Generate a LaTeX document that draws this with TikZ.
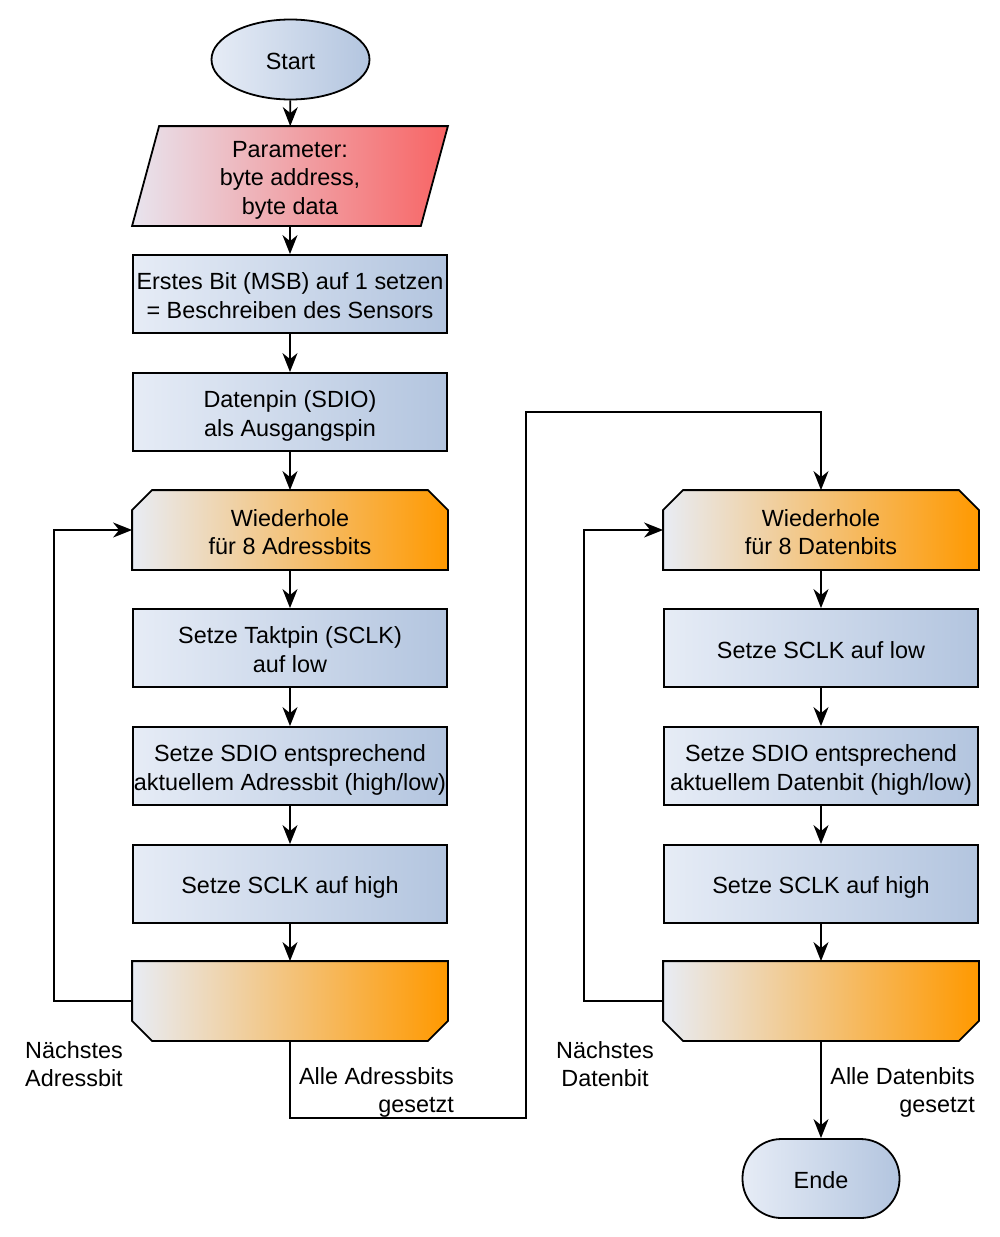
\documentclass[tikz,border=0pt]{standalone}
\usepackage{fontspec}
\usepackage{array}
\setmainfont{Liberation Sans}
\usetikzlibrary{arrows.meta,backgrounds,shapes.geometric}
\definecolor{bL}{HTML}{E6ECF6}
\definecolor{bR}{HTML}{B3C5DF}
\definecolor{oL}{HTML}{E8ECF4}
\definecolor{oR}{HTML}{FF9900}
\definecolor{rL}{HTML}{E8E4EE}
\definecolor{rR}{HTML}{F86464}
\newcommand{\lnstrut}{\rule[-4pt]{0pt}{28pt}}
\newcommand{\ctext}[1]{{\renewcommand{\arraystretch}{0}\begin{tabular}{@{}>{\lnstrut}c@{}}#1\end{tabular}}}
\newcommand{\ltext}[1]{{\renewcommand{\arraystretch}{0}\begin{tabular}{@{}>{\lnstrut}l@{}}#1\end{tabular}}}
\newcommand{\rtext}[1]{{\renewcommand{\arraystretch}{0}\begin{tabular}{@{}>{\lnstrut}r@{}}#1\end{tabular}}}
\begin{document}
\begin{tikzpicture}[x=1pt,y=-1pt,line width=1.8pt,
  >={Stealth[length=19pt,width=15pt,inset=6pt]},
  font=\fontsize{23.4}{28}\selectfont,
  box/.style={draw=black,line width=1.8pt,rectangle,minimum width=314pt,minimum height=78pt,inner sep=0pt,left color=bL,right color=bR},
  txt/.style={inner sep=0pt,minimum width=314pt,minimum height=78pt},
  shp/.style={draw=black,line width=1.8pt,line join=miter},
  conn/.style={draw=black,line width=1.8pt,->},
  lbl/.style={inner sep=0pt}
]
\useasboundingbox (0,0) rectangle (1000,1237);

% left column
\node[draw=black,line width=1.8pt,ellipse,minimum width=158pt,minimum height=80pt,inner sep=0pt,left color=bL,right color=bR] (start) at (290.5,59.5) {\ctext{Start}};
\node[txt,minimum height=98pt] (param) at (290,176) {\ctext{Parameter:\\byte address,\\byte data}};
\node[box] (b1) at (290,294) {\ctext{Erstes Bit (MSB) auf 1 setzen\\= Beschreiben des Sensors}};
\node[box] (b2) at (290,412) {\ctext{Datenpin (SDIO)\\als Ausgangspin}};
\node[txt] (L1) at (290,530) {\ctext{Wiederhole\\für 8 Adressbits}};
\node[box] (b3) at (290,648) {\ctext{Setze Taktpin (SCLK)\\auf low}};
\node[box] (b4) at (290,766) {\ctext{Setze SDIO entsprechend\\aktuellem Adressbit (high/low)}};
\node[box] (b5) at (290,884) {\ctext{Setze SCLK auf high}};
\node[txt] (E1) at (290,1001) {};

% right column
\node[txt] (R1) at (821,530) {\ctext{Wiederhole\\für 8 Datenbits}};
\node[box] (c3) at (821,648) {\ctext{Setze SCLK auf low}};
\node[box] (c4) at (821,766) {\ctext{Setze SDIO entsprechend\\aktuellem Datenbit (high/low)}};
\node[box] (c5) at (821,884) {\ctext{Setze SCLK auf high}};
\node[txt] (E2) at (821,1001) {};
\node[draw=black,line width=1.8pt,rectangle,rounded corners=39pt,minimum width=157pt,minimum height=79pt,inner sep=0pt,left color=bL,right color=bR] (ende) at (821,1178.5) {\ctext{Ende}};

\begin{pgfonlayer}{background}
\path[shp,left color=rL,right color=rR] ([xshift=27pt]param.north west) -- (param.north east) -- ([xshift=-27pt]param.south east) -- (param.south west) -- cycle;
\foreach \n in {L1,R1}{
\path[shp,left color=oL,right color=oR] ([xshift=20pt]\n.north west) -- ([xshift=-20pt]\n.north east) -- ([yshift=-20pt]\n.north east) -- (\n.south east) -- (\n.south west) -- ([yshift=-20pt]\n.north west) -- cycle;
}
\foreach \n in {E1,E2}{
\path[shp,left color=oL,right color=oR] (\n.north west) -- (\n.north east) -- ([yshift=20pt]\n.south east) -- ([xshift=-20pt]\n.south east) -- ([xshift=20pt]\n.south west) -- ([yshift=20pt]\n.south west) -- cycle;
}
\end{pgfonlayer}

% connectors
\draw[conn] (start) -- (param);
\draw[conn] (param) -- (b1);
\draw[conn] (b1) -- (b2);
\draw[conn] (b2) -- (L1);
\draw[conn] (L1) -- (b3);
\draw[conn] (b3) -- (b4);
\draw[conn] (b4) -- (b5);
\draw[conn] (b5) -- (E1);
\draw[conn] (E1.west) -- ++(-78,0) |- (L1.west);

\draw[conn] (R1) -- (c3);
\draw[conn] (c3) -- (c4);
\draw[conn] (c4) -- (c5);
\draw[conn] (c5) -- (E2);
\draw[conn] (E2.west) -- ++(-79,0) |- (R1.west);

\coordinate (m1) at (526,1118);
\coordinate (m2) at (526,412);
\draw[conn] (E1.south) |- (m1) -- (m2) -| (R1.north);
\draw[conn] (E2.south) -- (ende.north);

% labels
\node[lbl,anchor=west] (t1) at (25,1062.4) {\ltext{Nächstes\\Adressbit}};
\node[lbl,anchor=east] (t2) at (454,1089) {\rtext{Alle Adressbits\\gesetzt}};
\node[lbl] (t3) at (605,1062.4) {\ctext{Nächstes\\Datenbit}};
\node[lbl,anchor=east] (t4) at (975,1089) {\rtext{Alle Datenbits\\gesetzt}};
\end{tikzpicture}
\end{document}
